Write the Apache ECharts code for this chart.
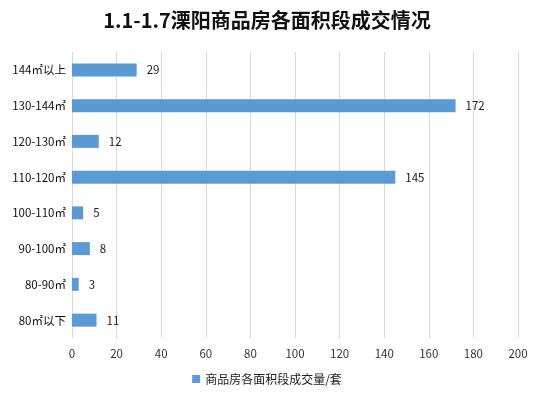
<!DOCTYPE html>
<html>
<head>
<meta charset="utf-8">
<script src="https://cdn.jsdelivr.net/npm/echarts@6/dist/echarts.min.js"></script>
<style>
  html, body { margin: 0; padding: 0; background: #fff; }
  #chart { width: 534px; height: 400px; }
</style>
</head>
<body>
<div id="chart"></div>
<script>
// ── Data ────────────────────────────────────────────────────────────────
var categories = ['80㎡以下', '80-90㎡', '90-100㎡', '100-110㎡', '110-120㎡', '120-130㎡', '130-144㎡', '144㎡以上'];
var volumes = [11, 3, 8, 5, 145, 12, 172, 29];
var seriesName = '商品房各面积段成交量/套';
var titleText = '1.1-1.7溧阳商品房各面积段成交情况';

var FONT = "'Noto Sans CJK SC', 'Microsoft YaHei', sans-serif";

var chart = echarts.init(document.getElementById('chart'), null, { renderer: 'canvas' });
chart.setOption({
  backgroundColor: '#fff',
  animation: false,
  title: {
    text: titleText,
    left: 'center',
    top: 5,
    textStyle: { fontFamily: FONT, fontSize: 20, fontWeight: 'bold', color: '#111' }
  },
  legend: {
    bottom: 10,
    left: 'center',
    itemWidth: 8,
    itemHeight: 8,
    itemGap: 4,
    icon: 'rect',
    textStyle: { fontFamily: FONT, fontSize: 12, color: '#222' },
    data: [seriesName]
  },
  grid: { left: 72, right: 16, top: 52, bottom: 62, containLabel: false },
  xAxis: {
    type: 'value',
    min: 0, max: 200, interval: 20,
    axisLine: { show: false },
    axisTick: { show: false },
    axisLabel: { fontFamily: FONT, fontSize: 11.5, color: '#333', margin: 10 },
    splitLine: { lineStyle: { color: '#d9d9d9' } }
  },
  yAxis: {
    type: 'category',
    data: categories,
    axisLine: { show: false },
    axisTick: { show: false },
    axisLabel: { fontFamily: FONT, fontSize: 11.5, color: '#111', margin: 6 }
  },
  series: [{
    name: seriesName,
    type: 'bar',
    data: volumes,
    barWidth: 13,
    itemStyle: { color: '#5b9bd5' },
    label: { show: true, position: 'right', distance: 10, fontFamily: FONT, fontSize: 11.5, color: '#222' }
  }]
});
</script>
</body>
</html>
